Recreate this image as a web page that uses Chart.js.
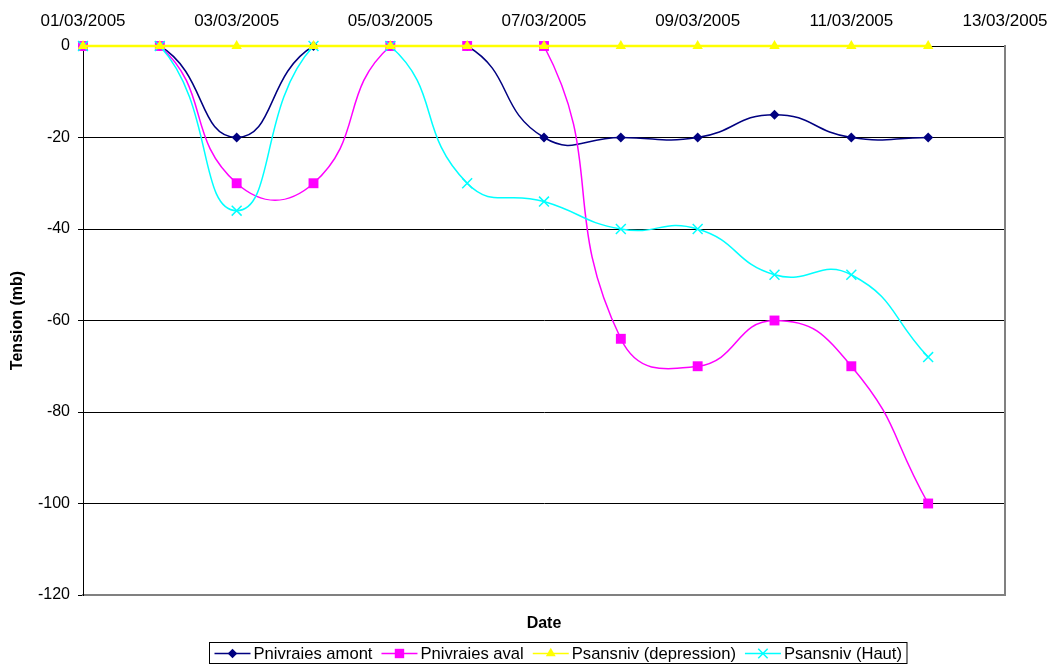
<!DOCTYPE html>
<html><head><meta charset="utf-8">
<script src="https://cdn.jsdelivr.net/npm/chart.js@4.4.0/dist/chart.umd.min.js"></script>
<style>html,body{margin:0;padding:0;background:#fff;}#wrap{width:1049px;height:664px;position:relative;}</style>
</head><body><div id="wrap"><canvas id="c"></canvas></div>
<script>
const dates = ['01/03/2005','02/03/2005','03/03/2005','04/03/2005','05/03/2005','06/03/2005','07/03/2005','08/03/2005','09/03/2005','10/03/2005','11/03/2005','12/03/2005'];
const xTickLabels = ['01/03/2005','03/03/2005','05/03/2005','07/03/2005','09/03/2005','11/03/2005','13/03/2005'];
const amont = [0,0,-20,0,0,0,-20,-20,-20,-15,-20,-20];
const aval = [0,0,-30,-30,0,0,0,-64,-70,-60,-70,-100];
const depression = [0,0,0,0,0,0,0,0,0,0,0,0];
const haut = [0,0,-36,0,0,-30,-34,-40,-40,-50,-50,-68];

const FONT = "'Liberation Sans', Arial, sans-serif";
const toPts = arr => arr.map((v,i)=>({x:i,y:v}));

const series = [
  {label:'Pnivraies amont', data:amont, color:'#000080', style:'rectRot', r:5, order:3, w:1.5},
  {label:'Pnivraies aval', data:aval, color:'#FF00FF', style:'rect', r:7, order:2, w:1.5},
  {label:'Psansniv (depression)', data:depression, color:'#FFFF00', style:'triangle', r:6, order:0, w:2.5},
  {label:'Psansniv (Haut)', data:haut, color:'#00FFFF', style:'crossRot', r:7, order:1, w:1.5}
];

function drawMarker(ctx, style, x, y, r, color){
  ctx.save();
  ctx.fillStyle=color; ctx.strokeStyle=color; ctx.lineWidth=1.5;
  ctx.beginPath();
  if(style==='rectRot'){ctx.moveTo(x-r,y);ctx.lineTo(x,y-r);ctx.lineTo(x+r,y);ctx.lineTo(x,y+r);ctx.closePath();ctx.fill();}
  else if(style==='rect'){const s=r*Math.SQRT1_2;ctx.rect(x-s,y-s,2*s,2*s);ctx.fill();}
  else if(style==='triangle'){for(let k=0;k<3;k++){const a=k*2*Math.PI/3;const px=x+Math.sin(a)*r,py=y-Math.cos(a)*r;k?ctx.lineTo(px,py):ctx.moveTo(px,py);}ctx.closePath();ctx.fill();}
  else if(style==='crossRot'){const s=r*Math.SQRT1_2;ctx.moveTo(x-s,y-s);ctx.lineTo(x+s,y+s);ctx.moveTo(x+s,y-s);ctx.lineTo(x-s,y+s);ctx.stroke();}
  ctx.restore();
}

const legendPlugin = {
  id:'customLegend',
  afterDraw(chart){
    const ctx=chart.ctx;
    ctx.save();
    ctx.font='16.6px '+FONT;
    const sample=36, gapT=3, spacing=9, pad=5;
    const widths=series.map(s=>sample+gapT+ctx.measureText(s.label).width);
    const total=widths.reduce((a,b)=>a+b,0)+spacing*(series.length-1)+pad*2;
    const cx=557.5;
    const left=Math.round(cx-total/2)+0.5, top=642.5, h=21;
    ctx.strokeStyle='#000'; ctx.lineWidth=1;
    ctx.strokeRect(left,top,total,h);
    let x=left+pad; const y=top+h/2+0.5;
    series.forEach((s,i)=>{
      ctx.strokeStyle=s.color; ctx.lineWidth=1.5;
      ctx.beginPath(); ctx.moveTo(x,y); ctx.lineTo(x+sample,y); ctx.stroke();
      drawMarker(ctx,s.style,x+sample/2,y,s.r*0.95,s.color);
      ctx.fillStyle='#000'; ctx.textBaseline='middle'; ctx.textAlign='left';
      ctx.fillText(s.label,x+sample+gapT,y+1);
      x+=widths[i]+spacing;
    });
    ctx.restore();
  }
};

new Chart(document.getElementById('c'), {
  type:'line',
  data:{
    datasets: series.map(s=>({
      label:s.label, data:toPts(s.data), borderColor:s.color, backgroundColor:s.color,
      borderWidth:s.w, pointStyle:s.style, pointRadius:s.r, pointHoverRadius:s.r,
      pointBorderWidth: s.style==='crossRot'?1.5:0, pointBorderColor:s.color,
      tension:0.5, fill:false, clip:false, order:s.order, xAxisID:'x', yAxisID:'y'
    }))
  },
  options:{
    responsive:true, maintainAspectRatio:false, animation:false,
    layout:{padding:0},
    plugins:{legend:{display:false}, tooltip:{enabled:false}},
    scales:{
      x:{type:'linear', position:'top', min:0, max:12,
        afterFit(s){s.height=46; s.paddingLeft=0; s.paddingRight=0;},
        grid:{display:true, drawOnChartArea:false, drawTicks:false},
        border:{display:true,color:'#000',width:1},
        ticks:{stepSize:2, autoSkip:false, maxRotation:0, padding:14, color:'#000',
          font:{family:FONT,size:17},
          callback:(v)=>xTickLabels[v/2]}
      },
      x2:{type:'linear', position:'bottom', min:0, max:12,
        afterFit(s){s.height=69; s.paddingLeft=0; s.paddingRight=0;},
        grid:{display:false}, ticks:{display:false},
        border:{display:true,color:'#808080',width:2},
        title:{display:true,text:'Date',color:'#000',font:{family:FONT,size:16,weight:'bold'},padding:{top:0,bottom:31}}
      },
      y:{type:'linear', position:'left', min:-120, max:0,
        afterFit(s){s.width=83;},
        grid:{color:(c)=>c.tick&&c.tick.value===-120?'rgba(0,0,0,0)':'#000', lineWidth:1, tickLength:5, tickColor:'#000'},
        border:{display:true,color:'#000',width:1},
        ticks:{stepSize:20, padding:8, color:'#000', font:{family:FONT,size:16}},
        title:{display:true,text:'Tension (mb)',color:'#000',font:{family:FONT,size:16,weight:'bold'},padding:{top:8,bottom:0}}
      },
      y2:{type:'linear', position:'right', min:-120, max:0,
        afterFit(s){s.width=44;},
        grid:{display:false}, ticks:{display:false},
        border:{display:true,color:'#808080',width:2}
      }
    }
  },
  plugins:[legendPlugin]
});
</script></body></html>
